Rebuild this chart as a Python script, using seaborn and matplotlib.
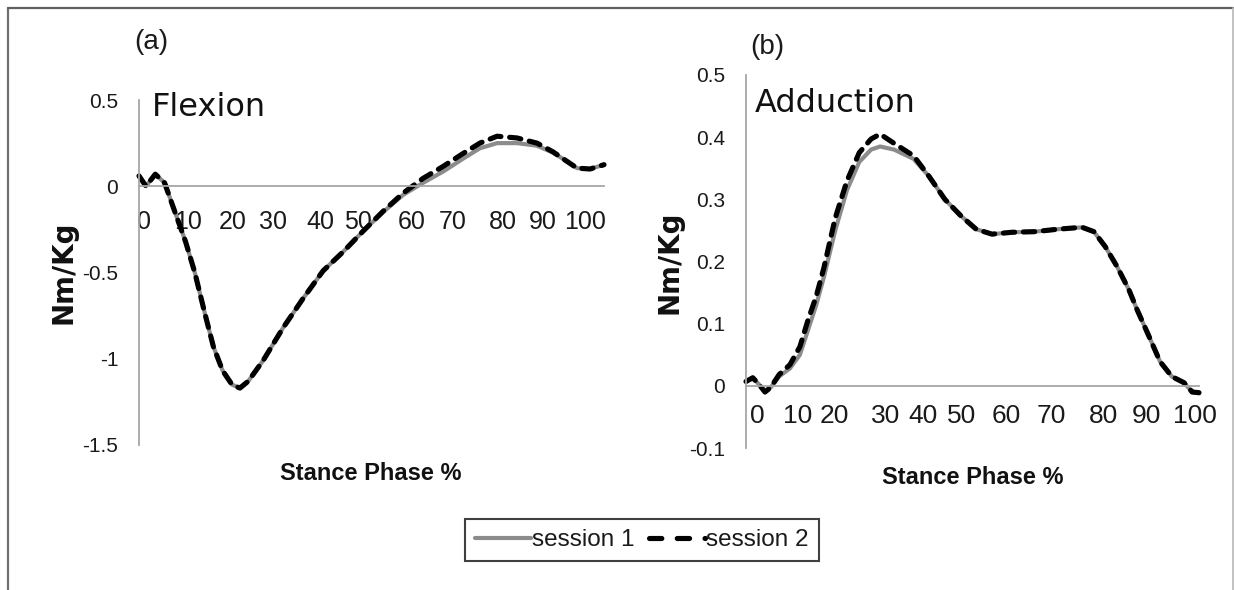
import matplotlib
matplotlib.use('Agg')
import matplotlib.pyplot as plt
from matplotlib.lines import Line2D
import seaborn as sns
import pandas as pd

sns.set_theme(style='white')
plt.rcParams['font.family'] = ['Liberation Sans', 'DejaVu Sans']

# ---------------- data ----------------
series_names = ['session 1', 'session 2']

flex_pct = [0, 1.5, 3.5, 5.5, 8, 10, 12, 14, 16, 18, 20, 21.7, 23.5, 26.7, 31, 35.3,
            39.6, 43.9, 48.2, 52.5, 56.8, 61.1, 65.4, 69.7, 73.3, 77, 81.3, 85.6, 89,
            92, 94.2, 97, 100]
flex_s1 = [0.06, 0.0, 0.07, 0.02, -0.17, -0.32, -0.50, -0.72, -0.93, -1.07, -1.15, -1.17,
           -1.13, -1.01, -0.82, -0.65, -0.49, -0.38, -0.26, -0.15, -0.05, 0.02, 0.085,
           0.16, 0.22, 0.25, 0.25, 0.235, 0.195, 0.145, 0.105, 0.10, 0.125]
flex_s2 = [0.06, 0.0, 0.07, 0.02, -0.17, -0.32, -0.50, -0.72, -0.93, -1.07, -1.15, -1.17,
           -1.13, -1.01, -0.82, -0.65, -0.49, -0.38, -0.26, -0.145, -0.04, 0.046, 0.115,
           0.19, 0.25, 0.29, 0.28, 0.25, 0.20, 0.145, 0.105, 0.10, 0.125]

add_pct = [0, 1.5, 2.9, 4.2, 5.5, 7.3, 9.7, 11.9, 13.7, 15.5, 17.2, 19.7, 22.3, 25, 27.6,
           29.6, 32.7, 37, 40.4, 43.9, 47.5, 50.8, 54.3, 58.7, 63.8, 68.9, 74.2, 76.8,
           79.3, 81.9, 84.5, 86.3, 89, 91.4, 94, 96.7, 98.5, 100]
add_s1 = [0.007, 0.013, 0.002, -0.01, -0.002, 0.015, 0.028, 0.05, 0.09, 0.13, 0.175, 0.25,
          0.315, 0.36, 0.38, 0.385, 0.38, 0.365, 0.337, 0.30, 0.273, 0.252, 0.244, 0.247,
          0.248, 0.252, 0.255, 0.248, 0.224, 0.192, 0.155, 0.123, 0.079, 0.039, 0.015,
          0.005, -0.01, -0.012]
add_s2 = [0.007, 0.013, 0.002, -0.01, -0.002, 0.018, 0.034, 0.063, 0.106, 0.144, 0.19, 0.27,
          0.33, 0.375, 0.397, 0.405, 0.39, 0.37, 0.337, 0.30, 0.273, 0.252, 0.244, 0.247,
          0.248, 0.252, 0.255, 0.248, 0.224, 0.192, 0.155, 0.123, 0.079, 0.039, 0.015,
          0.005, -0.01, -0.011]

x_ticks = [0, 10, 20, 30, 40, 50, 60, 70, 80, 90, 100]
x_tick_labels = ['0', '10', '20', '30', '40', '50', '60', '70', '80', '90', '100']
flex_yticks = [0.5, 0, -0.5, -1, -1.5]
flex_ylabels = ['0.5', '0', '-0.5', '-1', '-1.5']
add_yticks = [0.5, 0.4, 0.3, 0.2, 0.1, 0, -0.1]
add_ylabels = ['0.5', '0.4', '0.3', '0.2', '0.1', '0', '-0.1']

# layout: where Excel placed the category labels (in axis units)
flex_label_pos = [1, 10.5, 20.2, 28.8, 38.9, 47.1, 58.7, 67.5, 78.3, 86.9, 95.9]
add_label_pos = [2.4, 11.5, 19.6, 30.9, 39.1, 47.5, 57.4, 67.3, 79, 88.5, 99]


def long_df(pct, s1, s2):
    return pd.DataFrame({
        'pct': list(pct) + list(pct),
        'value': list(s1) + list(s2),
        'session': [series_names[0]] * len(pct) + [series_names[1]] * len(pct),
    })


W, H = 1234, 590
fig = plt.figure(figsize=(W / 100, H / 100), dpi=100)
fig.patch.set_facecolor('white')

ax1 = fig.add_axes([139 / W, 1 - 445 / H, 465 / W, 345 / H])
ax2 = fig.add_axes([746 / W, 1 - 448 / H, 453 / W, 373 / H])

axis_col = '#a6a6a6'
txt_col = '#1a1a1a'
palette = {'session 1': '#8c8c8c', 'session 2': '#000000'}
dash_pat = (2.2, 1.7)
dashes = {'session 1': '', 'session 2': dash_pat}

panels = [
    (ax1, long_df(flex_pct, flex_s1, flex_s2), (-1.5, 0.5), flex_yticks, flex_ylabels,
     flex_label_pos, 18, 17),
    (ax2, long_df(add_pct, add_s1, add_s2), (-0.1, 0.5), add_yticks, add_ylabels,
     add_label_pos, 19, 13),
]

for ax, df, ylim, yt, yl, lpos, xfs, xpad in panels:
    ax.set_facecolor('white')
    sns.lineplot(data=df, x='pct', y='value', hue='session', style='session',
                 palette=palette, dashes=dashes, ax=ax, legend=False, sort=False)
    for ln, lw in zip(ax.lines, [3.0, 3.7]):
        ln.set_linewidth(lw)
        ln.set_dash_capstyle('round')
        ln.set_solid_capstyle('round')
        ln.set_clip_on(False)
    ax.set_xlim(0, 100)
    ax.set_ylim(*ylim)
    for s in ['top', 'right']:
        ax.spines[s].set_visible(False)
    ax.spines['left'].set_color(axis_col)
    ax.spines['left'].set_linewidth(1.3)
    ax.spines['bottom'].set_position(('data', 0))
    ax.spines['bottom'].set_color(axis_col)
    ax.spines['bottom'].set_linewidth(1.3)
    ax.set_yticks(yt)
    ax.set_yticklabels(yl, fontsize=15, color=txt_col)
    ax.tick_params(axis='y', length=0, pad=15)
    ax.set_xticks(x_ticks)
    ax.set_xticklabels([])
    ax.tick_params(axis='x', which='major', direction='inout', length=11.5,
                   width=1.0, color=axis_col)
    ax.set_xticks(lpos, minor=True)
    ax.set_xticklabels(x_tick_labels, minor=True, fontsize=xfs, color=txt_col)
    ax.tick_params(axis='x', which='minor', length=0, pad=xpad)
    ax.set_xlabel('')
    ax.set_ylabel('')
    ax.grid(False)

# axis titles / annotations
fig.text(63 / W, 1 - 272 / H, 'Nm/Kg', rotation=90, ha='center', va='center',
         fontsize=20, fontweight='bold', family=['DejaVu Sans'], color='#111111')
fig.text(669 / W, 1 - 262 / H, 'Nm/Kg', rotation=90, ha='center', va='center',
         fontsize=20, fontweight='bold', family=['DejaVu Sans'], color='#111111')
fig.text(371 / W, 1 - 473 / H, 'Stance Phase %', ha='center', va='center',
         fontsize=17, fontweight='bold', color='#111111')
fig.text(973 / W, 1 - 478 / H, 'Stance Phase %', ha='center', va='center',
         fontsize=17, fontweight='bold', color='#111111')
fig.text(151 / W, 1 - 42 / H, '(a)', ha='center', va='center', fontsize=20, color=txt_col)
fig.text(767 / W, 1 - 47 / H, '(b)', ha='center', va='center', fontsize=20, color=txt_col)
fig.text(152 / W, 1 - 108 / H, 'Flexion', ha='left', va='center', fontsize=23,
         family=['DejaVu Sans'], color='#111111')
fig.text(755 / W, 1 - 104 / H, 'Adduction', ha='left', va='center', fontsize=23,
         family=['DejaVu Sans'], color='#111111')

# legend
handles = [Line2D([], [], color=palette['session 1'], lw=3.0),
           Line2D([], [], color='black', lw=3.7, dashes=(2.4, 3.0), dash_capstyle='round')]
leg = fig.legend(handles, series_names, loc='center',
                 bbox_to_anchor=(642 / W, 1 - 540 / H), ncol=2, frameon=True,
                 fancybox=False, edgecolor='#404040', framealpha=1, fontsize=17.5,
                 handlelength=2.3, handletextpad=0.05, columnspacing=0.6,
                 borderpad=0.4, borderaxespad=0)
for t in leg.get_texts():
    t.set_color(txt_col)
leg.get_frame().set_linewidth(1.5)

# outer frame
fig.add_artist(Line2D([8 / W, 8 / W], [0, 1 - 8 / H], transform=fig.transFigure,
                      color='#707070', lw=1.6))
fig.add_artist(Line2D([8 / W, 1233 / W], [1 - 8 / H, 1 - 8 / H], transform=fig.transFigure,
                      color='#606060', lw=1.6))
fig.add_artist(Line2D([1233 / W, 1233 / W], [0, 1 - 8 / H], transform=fig.transFigure,
                      color='#b8b8b8', lw=1.2))

fig.savefig('out.png', dpi=100, facecolor='white')
